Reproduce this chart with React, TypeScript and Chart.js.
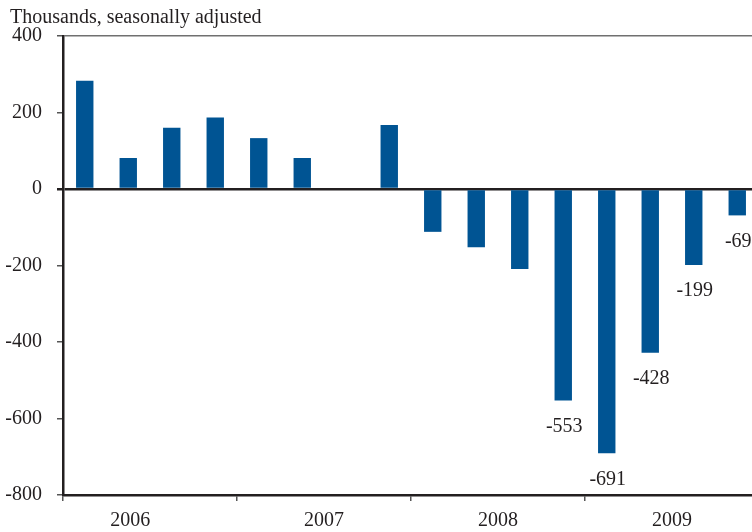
import React, { useEffect, useRef } from "react";
import { Chart, registerables } from "chart.js";

Chart.register(...registerables);

const quarters = [
  "2006 Q1", "2006 Q2", "2006 Q3", "2006 Q4",
  "2007 Q1", "2007 Q2", "2007 Q3", "2007 Q4",
  "2008 Q1", "2008 Q2", "2008 Q3", "2008 Q4",
  "2009 Q1", "2009 Q2", "2009 Q3", "2009 Q4",
];
const years = ["2006", "2007", "2008", "2009"];
const payrollChange = [283, 81, 160, 187, 133, 81, 0, 167, -112, -152, -209, -553, -691, -428, -199, -69];
const labeledValues = [null, null, null, null, null, null, null, null, null, null, null, -553, -691, -428, -199, -69];
const yMin = -800;
const yMax = 400;
const yStep = 200;
const title = "Thousands, seasonally adjusted";

const FONT = '"Liberation Serif", "Times New Roman", Times, serif';
const TEXT = "#231f20";
const BAR = "#005493";

export default function App() {
  const ref = useRef<HTMLCanvasElement | null>(null);

  useEffect(() => {
    if (!ref.current) return;
    const labelPlugin = {
      id: "labels",
      afterDatasetsDraw(chart: any) {
        const ctx = chart.ctx;
        const meta = chart.getDatasetMeta(0);
        ctx.save();
        ctx.font = `20px ${FONT}`;
        ctx.fillStyle = TEXT;
        ctx.textAlign = "center";
        ctx.textBaseline = "middle";
        meta.data.forEach((bar: any, i: number) => {
          const v = labeledValues[i];
          if (v == null) return;
          ctx.fillText(String(v), bar.x + 1, bar.y + 26);
        });
        ctx.restore();
      },
      afterDraw(chart: any) {
        const ctx = chart.ctx;
        const xs = chart.scales.x;
        ctx.save();
        ctx.font = `20px ${FONT}`;
        ctx.fillStyle = TEXT;
        ctx.textAlign = "left";
        ctx.textBaseline = "alphabetic";
        ctx.fillText(title, 10, 23);
        ctx.textAlign = "center";
        ctx.textBaseline = "middle";
        years.forEach((y, i) => {
          const x =
            i === 0
              ? xs.getPixelForValue(1) + 2
              : (xs.getPixelForValue(4 * i + 1) + xs.getPixelForValue(4 * i + 2)) / 2;
          ctx.fillText(y, x, 521);
        });
        ctx.restore();
      },
    };

    const chart = new Chart(ref.current, {
      type: "bar",
      data: {
        labels: quarters,
        datasets: [
          {
            data: payrollChange,
            backgroundColor: BAR,
            borderWidth: 0,
            barPercentage: 0.4,
            categoryPercentage: 1,
          },
        ],
      },
      options: {
        responsive: false,
        animation: false,
        devicePixelRatio: 1,
        layout: { padding: { top: 36, left: 0, right: 0, bottom: 0 } },
        plugins: {
          legend: { display: false },
          tooltip: { enabled: false },
          title: { display: false },
        },
        scales: {
          x: {
            type: "category",
            offset: true,
            afterFit: (s: any) => { s.height = 37; },
            grid: {
              offset: true,
              drawOnChartArea: false,
              drawTicks: true,
              tickLength: 6,
              lineWidth: 1.5,
              color: (c: any) => (typeof c.index === "number" && c.index % 4 === 0 ? "#555555" : "rgba(0,0,0,0)"),
            },
            border: { display: true, color: TEXT, width: 2.5 },
            ticks: {
              autoSkip: false,
              maxRotation: 0,
              minRotation: 0,
              color: TEXT,
              font: { family: FONT, size: 20 },
              callback: () => "",
            },
          },
          y: {
            min: yMin,
            max: yMax,
            z: 1,
            afterFit: (s: any) => { s.width = 63; },
            grid: {
              drawOnChartArea: true,
              drawTicks: true,
              tickLength: 6,
              color: (c: any) => (c.tick && c.tick.value === 0 ? TEXT : c.tick && c.tick.value === yMax ? "#707070" : "rgba(0,0,0,0)"),
              lineWidth: (c: any) => (c.tick && c.tick.value === 0 ? 2.5 : 1.5),
              tickColor: (c: any) => (c.tick && c.tick.value === 0 ? TEXT : "#555555"),
            },
            border: { display: true, color: TEXT, width: 2.5 },
            ticks: {
              stepSize: yStep,
              padding: 15,
              color: TEXT,
              font: { family: FONT, size: 20 },
              callback: (v: any) => String(v),
            },
          },
        },
      },
      plugins: [labelPlugin],
    });
    return () => chart.destroy();
  }, []);

  return (
    <div style={{ position: "absolute", left: 0, top: 0, width: 752, height: 532, overflow: "hidden", background: "#fff" }}>
      <canvas ref={ref} width={759} height={532} style={{ display: "block", width: 759, height: 532 }} />
    </div>
  );
}
